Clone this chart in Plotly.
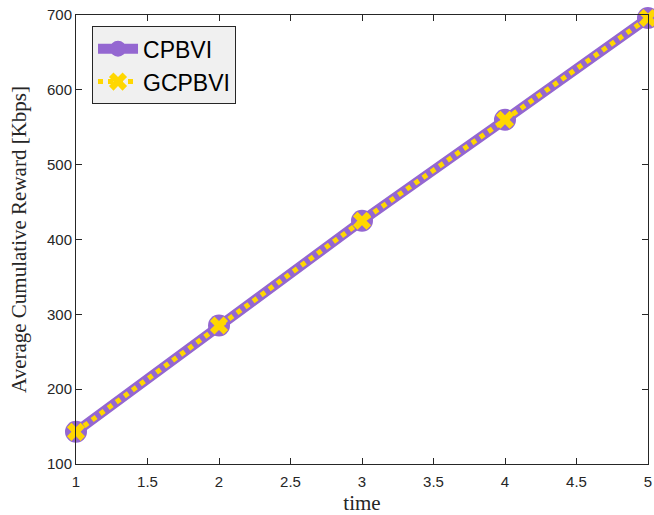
import plotly.graph_objects as go

time = [1, 2, 3, 4, 5]
cpbvi = [143, 285, 425, 560, 696]
gcpbvi = [143, 285, 425, 560, 696]

x_ticks = [1, 1.5, 2, 2.5, 3, 3.5, 4, 4.5, 5]
x_tick_text = ["1", "1.5", "2", "2.5", "3", "3.5", "4", "4.5", "5"]
y_ticks = [100, 200, 300, 400, 500, 600, 700]

fig = go.Figure()
fig.add_trace(go.Scatter(
    x=time, y=cpbvi, name="CPBVI", mode="lines+markers",
    line=dict(color="#9467d1", width=10),
    marker=dict(symbol="circle", size=22, color="#9467d1"),
    cliponaxis=False,
))
fig.add_trace(go.Scatter(
    x=time, y=gcpbvi, name="GCPBVI", mode="lines+markers",
    line=dict(color="#ffd700", width=5, dash="dot"),
    marker=dict(symbol="x", size=16, color="#ffd700", line=dict(width=0)),
    cliponaxis=False,
))

axis_common = dict(
    showgrid=False, zeroline=False, showline=True, linecolor="#262626", linewidth=1,
    mirror="allticks", ticks="inside", ticklen=6, tickcolor="#262626",
    tickfont=dict(family="Liberation Sans, Arial, sans-serif", size=15, color="#262626"),
    automargin=False,
)
fig.update_xaxes(range=[1, 5], tickvals=x_ticks, ticktext=x_tick_text,
                 ticklabelstandoff=4,
                 title=dict(text="time", font=dict(family="Liberation Serif, serif", size=21, color="#262626"), standoff=12),
                 **axis_common)
fig.update_yaxes(range=[100, 700], tickvals=y_ticks,
                 title=dict(text="Average Cumulative Reward [Kbps]", font=dict(family="Liberation Serif, serif", size=21, color="#262626"), standoff=14),
                 **axis_common)

fig.update_layout(
    width=654, height=515,
    margin=dict(l=76, r=6, t=15, b=51),
    paper_bgcolor="white", plot_bgcolor="white",
    showlegend=True,
    legend=dict(x=0.028, y=0.975, xanchor="left", yanchor="top",
                bgcolor="#f0f0f0", bordercolor="#262626", borderwidth=1,
                font=dict(family="Liberation Sans, Arial, sans-serif", size=23, color="black"),
                itemwidth=40, tracegroupgap=0),
)

fig.write_html("out.html", config={"displayModeBar": False},
               post_script="document.body.style.margin='0';document.body.style.overflow='hidden';")
